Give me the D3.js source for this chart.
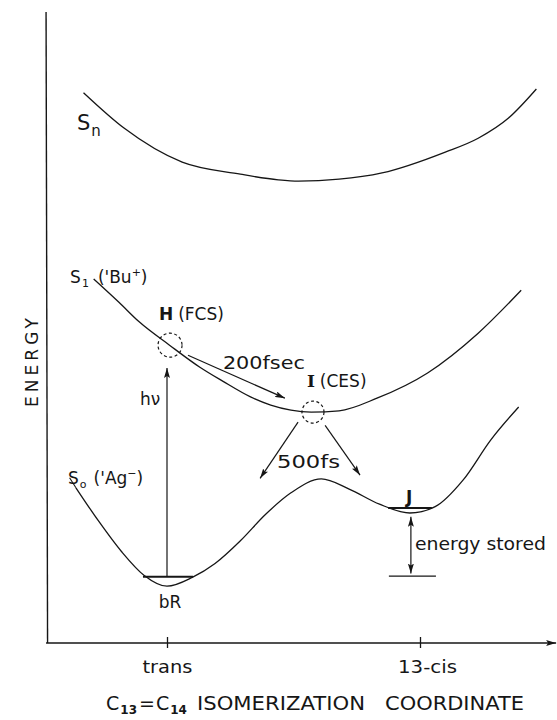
<!DOCTYPE html>
<html>
<head>
<meta charset="utf-8">
<script src="https://cdn.jsdelivr.net/npm/d3@7"></script>
<style>
  body { margin: 0; background: #fff; }
  text { font-family: "DejaVu Sans", sans-serif; fill: #161616; }
</style>
</head>
<body>
<script>
// potential energy curves: [isomerization coordinate (trans = 0, 13-cis = 1), energy (arb. units)]
var sn = [[-0.33, 8.72], [-0.17, 8.16], [0.06, 7.62], [0.29, 7.43], [0.44, 7.34], [0.52, 7.32],
          [0.68, 7.35], [0.85, 7.45], [1.10, 7.78], [1.23, 8.00], [1.35, 8.32], [1.46, 8.78]];
var s1 = [[-0.29, 5.77], [-0.19, 5.40], [-0.11, 5.09], [0.01, 4.72], [0.13, 4.37], [0.22, 4.15],
          [0.33, 3.90], [0.41, 3.77], [0.49, 3.69], [0.57, 3.66], [0.68, 3.68], [0.83, 3.88],
          [1.03, 4.28], [1.23, 4.91], [1.40, 5.59]];
var s0 = [[-0.36, 2.46], [-0.27, 1.93], [-0.18, 1.45], [-0.09, 1.07], [0.0, 0.90], [0.10, 1.04],
          [0.19, 1.26], [0.29, 1.62], [0.39, 2.04], [0.49, 2.38], [0.61, 2.60], [0.72, 2.44],
          [0.84, 2.20], [0.96, 2.06], [1.06, 2.16], [1.17, 2.58], [1.28, 3.22], [1.39, 3.74]];

var tickValues = [0, 1];
var tickLabels = ["trans", "13-cis"];
var axisExtent = [-0.478, 1.538];

// vibrational levels (coordinate from, coordinate to, energy)
var levels = [[-0.095, 0.103, 1.05], [0.874, 1.047, 2.14]];
// reference line for stored energy
var storedBase = [0.877, 1.063, 1.06];

// arrows: [c0, e0, c1, e1]
var arrows = [
  [0.0, 1.05, 0.0, 4.36],        // h nu
  [0.083, 4.56, 0.466, 3.88],    // 200 fsec
  [0.518, 3.50, 0.368, 2.61],    // 500 fs left
  [0.625, 3.45, 0.763, 2.66]     // 500 fs right
];
var storedArrow = [0.964, 2.00, 0.964, 1.10];

// dashed circles: H (FCS), I (CES)
var states = [[0.012, 4.72, 12], [0.577, 3.66, 11]];

var width = 557, height = 720;

var x = d3.scaleLinear().domain([0, 1]).range([167, 420]);
var y = d3.scaleLinear().domain([0, 10]).range([643, 12]);

var svg = d3.select("body").append("svg")
    .attr("width", width)
    .attr("height", height);

var defs = svg.append("defs");
defs.append("marker")
    .attr("id", "head")
    .attr("viewBox", "0 0 10 6")
    .attr("refX", 10).attr("refY", 3)
    .attr("markerWidth", 10).attr("markerHeight", 6)
    .attr("markerUnits", "userSpaceOnUse")
    .attr("orient", "auto-start-reverse")
  .append("path")
    .attr("d", "M0,0 L10,3 L0,6 L2,3 Z")
    .attr("fill", "#161616");

var line = d3.line()
    .x(function(d) { return x(d[0]); })
    .y(function(d) { return y(d[1]); })
    .curve(d3.curveMonotoneX);

// frame: energy axis and coordinate axis
svg.append("line")
    .attr("x1", x(axisExtent[0])).attr("x2", x(axisExtent[0]) + 1.5)
    .attr("y1", y(10)).attr("y2", y(0))
    .attr("stroke", "#161616").attr("stroke-width", 1.4);

svg.append("line")
    .attr("x1", x(axisExtent[0])).attr("x2", x(axisExtent[1]))
    .attr("y1", y(0)).attr("y2", y(0))
    .attr("stroke", "#161616").attr("stroke-width", 1.4)
    .attr("marker-end", "url(#head)");

var xAxis = svg.append("g")
    .attr("transform", "translate(0," + y(0) + ")")
    .call(d3.axisBottom(x)
      .tickValues(tickValues)
      .tickFormat(function(d, i) { return tickLabels[i]; })
      .tickSize(5)
      .tickSizeOuter(0)
      .tickPadding(8));
xAxis.select(".domain").remove();
xAxis.selectAll(".tick line").attr("y1", -6).attr("stroke", "#161616").attr("stroke-width", 1.3);
xAxis.selectAll(".tick text")
    .attr("font-size", 18)
    .attr("font-family", "DejaVu Sans, sans-serif")
    .attr("fill", "#161616")
    .attr("dy", "0.92em")
    .attr("textLength", function(d) { return d === 0 ? 50 : 59; })
    .attr("lengthAdjust", "spacingAndGlyphs");
xAxis.selectAll(".tick").filter(function(d) { return d === 1; })
    .select("text").attr("dx", 7);

// curves
[sn, s1, s0].forEach(function(c) {
  svg.append("path")
      .attr("d", line(c))
      .attr("fill", "none")
      .attr("stroke", "#161616")
      .attr("stroke-width", 1.3);
});

// leader from S0 label
svg.append("line")
    .attr("x1", x(-0.385)).attr("y1", y(2.62))
    .attr("x2", x(-0.36)).attr("y2", y(2.46))
    .attr("stroke", "#161616").attr("stroke-width", 1.1);

// vibrational levels
svg.selectAll(".level")
    .data(levels)
  .enter().append("line")
    .attr("class", "level")
    .attr("x1", function(d) { return x(d[0]); })
    .attr("x2", function(d) { return x(d[1]); })
    .attr("y1", function(d) { return y(d[2]); })
    .attr("y2", function(d) { return y(d[2]); })
    .attr("stroke", "#161616")
    .attr("stroke-width", 2);

svg.append("line")
    .attr("x1", x(storedBase[0])).attr("x2", x(storedBase[1]))
    .attr("y1", y(storedBase[2])).attr("y2", y(storedBase[2]))
    .attr("stroke", "#161616").attr("stroke-width", 1.2);

// arrows
svg.selectAll(".arrow")
    .data(arrows)
  .enter().append("line")
    .attr("class", "arrow")
    .attr("x1", function(d) { return x(d[0]); })
    .attr("y1", function(d) { return y(d[1]); })
    .attr("x2", function(d) { return x(d[2]); })
    .attr("y2", function(d) { return y(d[3]); })
    .attr("stroke", "#161616")
    .attr("stroke-width", 1.2)
    .attr("marker-end", "url(#head)");

svg.append("line")
    .attr("x1", x(storedArrow[0])).attr("y1", y(storedArrow[1]))
    .attr("x2", x(storedArrow[2])).attr("y2", y(storedArrow[3]))
    .attr("stroke", "#161616").attr("stroke-width", 1.2)
    .attr("marker-start", "url(#head)")
    .attr("marker-end", "url(#head)");

// dashed circles
svg.selectAll(".state")
    .data(states)
  .enter().append("circle")
    .attr("class", "state")
    .attr("cx", function(d) { return x(d[0]); })
    .attr("cy", function(d) { return y(d[1]); })
    .attr("r", function(d) { return d[2]; })
    .attr("fill", "none")
    .attr("stroke", "#161616")
    .attr("stroke-width", 1.2)
    .attr("stroke-dasharray", "3,2.5");

// labels
function label(c, e, size) {
  return svg.append("text")
      .attr("x", x(c))
      .attr("y", y(e))
      .attr("font-size", size);
}

var t = label(-0.356, 8.13, 21);
t.append("tspan").text("S");
t.append("tspan").attr("font-size", 15).attr("dy", 6).attr("dx", 1).text("n");

t = label(-0.383, 5.71, 17);
t.append("tspan").text("S");
t.append("tspan").attr("font-size", 11).attr("dy", 4).attr("dx", 1).text("1");
t.append("tspan").attr("dy", -4).attr("dx", 9).text("('Bu");
t.append("tspan").attr("font-size", 11).attr("dy", -7).text("+");
t.append("tspan").attr("dy", 7).text(")");

t = label(-0.391, 2.52, 17);
t.append("tspan").text("S");
t.append("tspan").attr("font-size", 11).attr("dy", 4).attr("dx", 1).text("o");
t.append("tspan").attr("dy", -4).attr("dx", 7).text("('Ag");
t.append("tspan").attr("font-size", 11).attr("dy", -7).text("−");
t.append("tspan").attr("dy", 7).text(")");

t = label(-0.032, 5.12, 17);
t.append("tspan").attr("font-weight", "bold").text("H");
t.append("tspan").attr("dx", 5).text("(FCS)");

t = label(0.553, 4.06, 17);
t.append("tspan").attr("font-weight", "bold").attr("font-family", "DejaVu Serif, serif").text("I");
t.append("tspan").attr("dx", 5).text("(CES)");

label(0.221, 4.34, 17).attr("textLength", 82).attr("lengthAdjust", "spacingAndGlyphs").text("200fsec");
label(0.435, 2.77, 17).attr("textLength", 63).attr("lengthAdjust", "spacingAndGlyphs").text("500fs");
label(-0.107, 3.77, 17).text("hν");
label(0.012, 0.555, 17).attr("text-anchor", "middle").text("bR");
label(0.945, 2.22, 17).attr("font-weight", "bold").text("J");
label(0.980, 1.47, 17).attr("textLength", 131).attr("lengthAdjust", "spacingAndGlyphs").text("energy stored");

// axis titles
svg.append("text")
    .attr("transform", "translate(" + 38 + "," + 407 + ") rotate(-90)")
    .attr("font-size", 17)
    .attr("textLength", 89)
    .attr("lengthAdjust", "spacing")
    .text("ENERGY");

t = svg.append("text")
    .attr("x", 106)
    .attr("y", 710)
    .attr("font-size", 19);
t.append("tspan").text("C");
t.append("tspan").attr("font-size", 12).attr("dy", 4).attr("dx", 1).attr("font-weight", "bold").text("13");
t.append("tspan").attr("dy", -4).attr("dx", 2).text("=");
t.append("tspan").attr("dx", 1).text("C");
t.append("tspan").attr("font-size", 12).attr("dy", 4).attr("dx", 1).attr("font-weight", "bold").text("14");

svg.append("text")
    .attr("x", 197).attr("y", 710)
    .attr("font-size", 19)
    .attr("textLength", 168)
    .attr("lengthAdjust", "spacingAndGlyphs")
    .text("ISOMERIZATION");
svg.append("text")
    .attr("x", 385).attr("y", 710)
    .attr("font-size", 19)
    .attr("textLength", 139)
    .attr("lengthAdjust", "spacingAndGlyphs")
    .text("COORDINATE");
</script>
</body>
</html>
